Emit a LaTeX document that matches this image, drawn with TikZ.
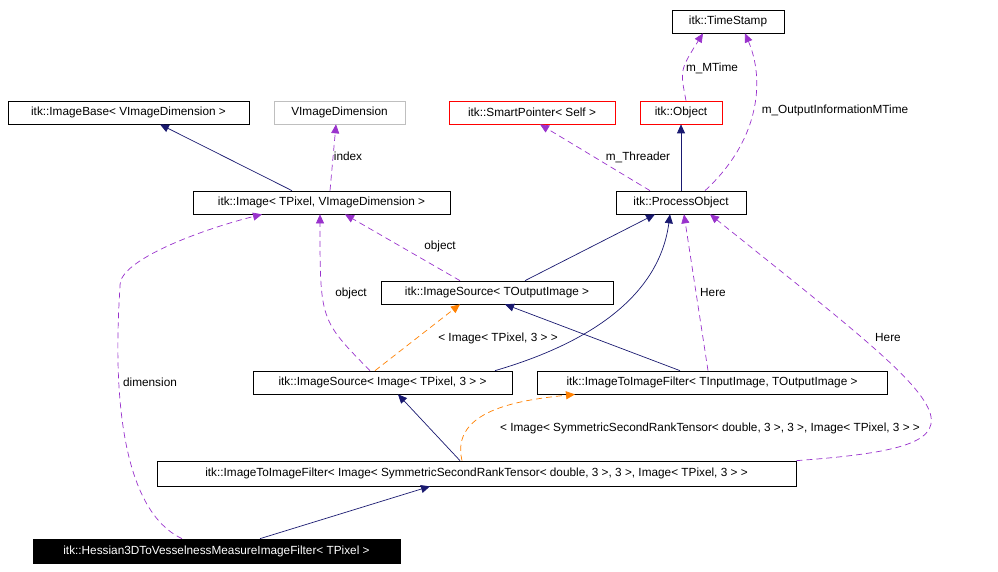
\documentclass[tikz,border=0pt]{standalone}
\usepackage{fontspec}
\setmainfont{Liberation Sans}
\usetikzlibrary{arrows.meta}
\begin{document}
\begin{tikzpicture}[x=1pt,y=-1pt,font=\fontsize{11.8}{13}\selectfont,
 box/.style={draw=black,fill=white,minimum height=23pt,inner xsep=4pt,line width=0.7pt},
 inh/.style={draw={rgb,255:red,25;green,25;blue,112},line width=0.7pt,-{Triangle[length=9pt,width=8pt]}},
 use/.style={draw={rgb,255:red,153;green,50;blue,204},dash pattern=on 6pt off 4pt,line width=0.7pt,-{Triangle[length=9pt,width=8pt]}},
 tpl/.style={draw=orange,dash pattern=on 6pt off 4pt,line width=0.7pt,-{Triangle[length=9pt,width=8pt]}},
 lab/.style={font=\fontsize{11.8}{13}\selectfont}]
\useasboundingbox (0,0) rectangle (998,572);
\node[box,minimum width=112pt] (ts) at (728,21.5) {itk::TimeStamp};
\node[box,minimum width=241pt] (ib) at (128.5,112.5) {itk::ImageBase< VImageDimension >};
\node[box,draw=lightgray,minimum width=131pt] (vd) at (339.5,112.5) {VImageDimension};
\node[box,draw=red,minimum width=166pt] (sp) at (532,112.5) {itk::SmartPointer< Self >};
\node[box,draw=red,minimum width=82pt] (ob) at (681,112.5) {itk::Object};
\node[box,minimum width=257pt] (im) at (321.5,202.5) {itk::Image< TPixel, VImageDimension >};
\node[box,minimum width=130pt] (po) at (681,202.5) {itk::ProcessObject};
\node[box,minimum width=232pt] (is) at (497,292.5) {itk::ImageSource< TOutputImage >};
\node[box,minimum width=259pt] (isi) at (382.5,382.5) {itk::ImageSource< Image< TPixel, 3 > >};
\node[box,minimum width=350pt] (itf) at (712,382.5) {itk::ImageToImageFilter< TInputImage, TOutputImage >};
\node[box,minimum width=639pt,minimum height=25pt] (its) at (476.5,473.5) {itk::ImageToImageFilter< Image< SymmetricSecondRankTensor< double, 3 >, 3 >, Image< TPixel, 3 > >};
\node[box,fill=black,text=white,minimum width=367pt,minimum height=24pt] (hs) at (216.5,551) {itk::Hessian3DToVesselnessMeasureImageFilter< TPixel >};

\draw[inh] (im.north -| 292,0) -- (ib.south -| 160,0);
\draw[use] (im.north -| 330,0) -- (vd.south -| 336,0);
\node[lab] (l1) at (348,156) {index};
\draw[use] (ob.north -| 686,0) .. controls (680,70) .. (ts.south -| 703,0);
\node[lab] (l2) at (712,68) {m\_MTime};
\draw[use] (po.north -| 705,0) .. controls (760,140) and (765,80) .. (ts.south -| 745,0);
\node[lab] (l3) at (835,110) {m\_OutputInformationMTime};
\draw[use] (po.north -| 650,0) -- (sp.south -| 540,0);
\node[lab] (l4) at (638,157) {m\_Threader};
\draw[inh] (po.north) -- (ob.south);
\draw[use] (is.north -| 460,0) -- (im.south -| 345,0);
\node[lab] (l5) at (440,246) {object};
\draw[inh] (is.north -| 525,0) -- (po.south -| 655,0);
\draw[inh] (isi.north -| 495,0) .. controls (600,340) and (660,290) .. (po.south -| 670,0);
\draw[use] (isi.north -| 370,0) .. controls (320,320) .. (im.south -| 320,0);
\node[lab] (l6) at (351,293) {object};
\draw[tpl] (isi.north -| 375,0) -- (is.south -| 460,0);
\node[lab] (l7) at (498,338) {< Image< TPixel, 3 > >};
\draw[inh] (itf.north -| 680,0) -- (is.south -| 505,0);
\draw[use] (itf.north -| 708,0) -- (po.south -| 684,0);
\node[lab] (l8) at (713,292) {Here};
\draw[use] (its.north east) .. controls (1010,445) and (960,415) .. (po.south -| 710,0);
\node[lab] (l9) at (888,337) {Here};
\draw[inh] (its.north -| 460,0) -- (isi.south -| 398,0);
\draw[tpl] (its.north -| 462,0) .. controls (450,410) and (520,400) .. (itf.south -| 575,0);
\node[lab] (l10) at (710,428) {< Image< SymmetricSecondRankTensor< double, 3 >, 3 >, Image< TPixel, 3 > >};
\draw[use] (hs.north -| 182,0) .. controls (100,500) and (120,300) .. (120,285) .. controls (120,260) and (200,230) .. (im.south -| 262,0);
\node[lab] (l11) at (150,382) {dimension};
\draw[inh] (hs.north -| 260,0) -- (its.south -| 430,0);
\end{tikzpicture}
\end{document}
